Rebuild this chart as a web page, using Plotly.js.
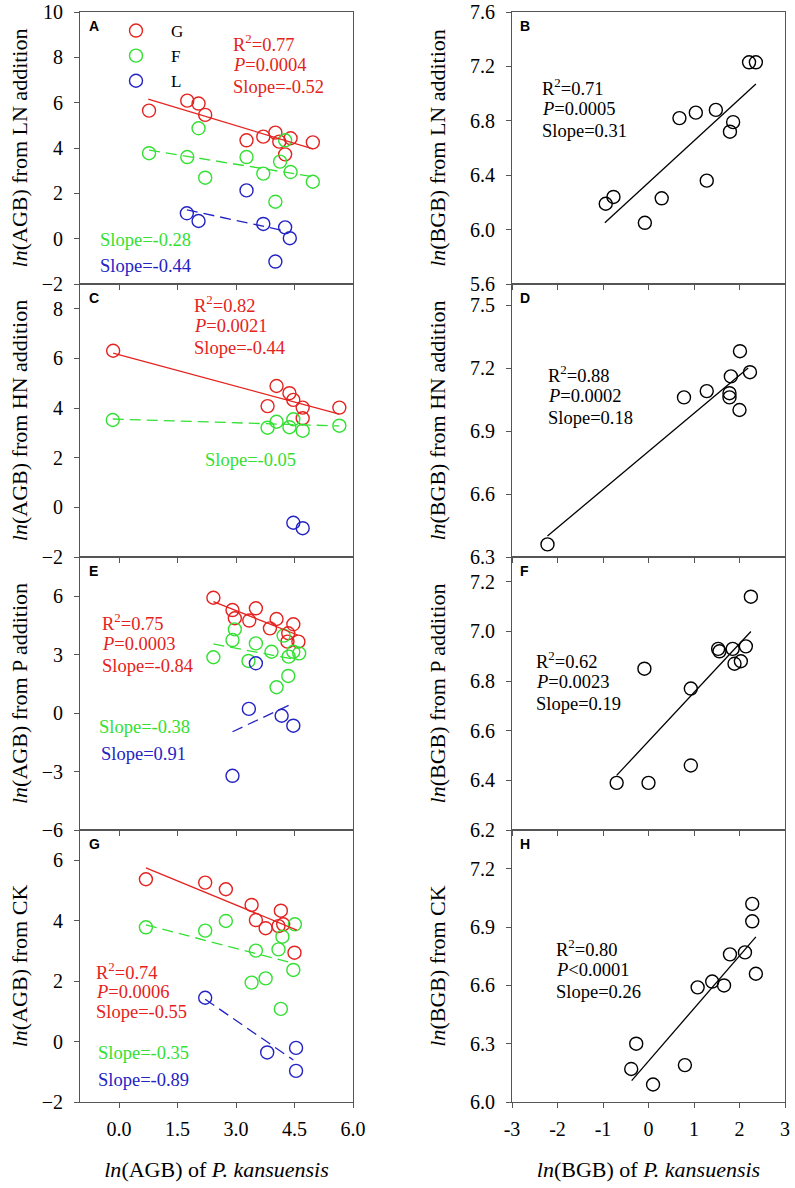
<!DOCTYPE html>
<html>
<head>
<meta charset="utf-8">
<script src="https://cdn.plot.ly/plotly-3.0.1.min.js"></script>
<style>html,body{margin:0;padding:0;background:#fff;}#chart{width:795px;height:1188px;}</style>
</head>
<body>
<div id="chart"></div>
<script>
// ---------- DATA ----------
const xTickValsAGB = [0, 1.5, 3, 4.5, 6];
const xTickTextAGB = ['0.0', '1.5', '3.0', '4.5', '6.0'];
const xTickValsBGB = [-3, -2, -1, 0, 1, 2, 3];
const xTickTextBGB = ['-3', '-2', '-1', '0', '1', '2', '3'];

// Panel A: ln(AGB) from LN addition
const A_G_x = [0.77, 1.75, 2.04, 2.21, 3.27, 3.70, 4.01, 4.11, 4.40, 4.26, 4.97];
const A_G_y = [5.65, 6.09, 5.96, 5.46, 4.34, 4.50, 4.68, 4.28, 4.43, 3.72, 4.25];
const A_F_x = [0.77, 1.75, 2.04, 2.21, 3.27, 3.70, 4.13, 4.26, 4.40, 4.97, 4.01];
const A_F_y = [3.77, 3.60, 4.87, 2.69, 3.60, 2.87, 3.40, 4.34, 2.94, 2.51, 1.63];
const A_L_x = [3.27, 1.74, 2.04, 3.70, 4.26, 4.38, 4.01];
const A_L_y = [2.13, 1.12, 0.78, 0.65, 0.50, 0.02, -1.01];
const A_G_fit_x = [0.75, 4.97], A_G_fit_y = [6.16, 3.96];
const A_F_fit_x = [0.77, 4.97], A_F_fit_y = [3.91, 2.73];
const A_L_fit_x = [1.74, 4.26], A_L_fit_y = [1.27, 0.34];

// Panel B: ln(BGB) from LN addition
const B_x = [2.21, 2.36, 0.68, 1.04, 1.48, 1.86, 1.79, 1.28, 0.29, -0.77, -0.94, -0.08];
const B_y = [7.23, 7.23, 6.82, 6.86, 6.88, 6.79, 6.72, 6.36, 6.23, 6.24, 6.19, 6.05];
const B_fit_x = [-0.96, 2.36], B_fit_y = [6.05, 7.07];

// Panel C: ln(AGB) from HN addition
const C_G_x = [-0.15, 4.04, 4.37, 4.47, 3.81, 4.71, 4.71, 5.65];
const C_G_y = [6.31, 4.89, 4.60, 4.33, 4.08, 4.02, 3.59, 4.02];
const C_F_x = [-0.16, 3.81, 4.04, 4.37, 4.47, 4.71, 5.65];
const C_F_y = [3.52, 3.21, 3.45, 3.23, 3.55, 3.09, 3.29];
const C_L_x = [4.47, 4.71];
const C_L_y = [-0.62, -0.84];
const C_G_fit_x = [-0.15, 5.65], C_G_fit_y = [6.21, 3.76];
const C_F_fit_x = [-0.16, 5.65], C_F_fit_y = [3.56, 3.28];

// Panel D: ln(BGB) from HN addition
const D_x = [2.01, 2.23, 1.81, 1.28, 0.78, 1.78, 1.78, 2.00, -2.22];
const D_y = [7.28, 7.18, 7.16, 7.09, 7.06, 7.08, 7.06, 7.00, 6.36];
const D_fit_x = [-2.22, 2.19], D_fit_y = [6.40, 7.20];

// Panel E: ln(AGB) from P addition
const E_G_x = [2.42, 2.91, 3.51, 2.97, 3.34, 4.04, 3.87, 4.47, 4.34, 4.60, 4.32];
const E_G_y = [5.91, 5.28, 5.37, 4.86, 4.74, 4.82, 4.34, 4.55, 4.09, 3.66, 3.66];
const E_F_x = [2.42, 2.97, 2.91, 3.32, 3.51, 3.91, 4.22, 4.35, 4.47, 4.62, 4.34, 4.04];
const E_F_y = [2.86, 4.29, 3.74, 2.67, 3.57, 3.14, 3.97, 2.89, 3.14, 3.06, 1.90, 1.32];
const E_L_x = [3.51, 3.33, 4.17, 4.47, 2.91];
const E_L_y = [2.55, 0.21, -0.14, -0.65, -3.22];
const E_G_fit_x = [2.42, 4.58], E_G_fit_y = [5.71, 4.00];
const E_F_fit_x = [2.42, 4.58], E_F_fit_y = [3.54, 2.72];
const E_L_fit_x = [2.91, 4.47], E_L_fit_y = [-0.96, 0.50];

// Panel F: ln(BGB) from P addition
const F_x = [2.25, -0.09, 1.53, 1.56, 1.85, 2.14, 1.89, 2.03, 0.93, 0.93, -0.70, 0.00];
const F_y = [7.14, 6.85, 6.93, 6.92, 6.93, 6.94, 6.87, 6.88, 6.77, 6.46, 6.39, 6.39];
const F_fit_x = [-0.70, 2.25], F_fit_y = [6.42, 7.00];

// Panel G: ln(AGB) from CK
const G_G_x = [0.69, 2.21, 2.74, 3.40, 4.15, 3.51, 3.76, 4.09, 4.21, 4.50];
const G_G_y = [5.37, 5.26, 5.04, 4.52, 4.33, 4.02, 3.75, 3.82, 3.88, 2.94];
const G_F_x = [0.69, 2.21, 2.74, 4.51, 4.19, 3.51, 4.09, 4.47, 3.40, 3.76, 4.15];
const G_F_y = [3.78, 3.67, 3.99, 3.88, 3.47, 3.01, 3.05, 2.37, 1.95, 2.09, 1.08];
const G_L_x = [2.21, 3.80, 4.54, 4.54];
const G_L_y = [1.45, -0.36, -0.21, -0.97];
const G_G_fit_x = [0.69, 4.56], G_G_fit_y = [5.75, 3.69];
const G_F_fit_x = [0.69, 4.47], G_F_fit_y = [3.86, 2.59];
const G_L_fit_x = [2.21, 4.47], G_L_fit_y = [1.40, -0.61];

// Panel H: ln(BGB) from CK
const H_x = [2.28, 2.28, 1.79, 2.12, 2.36, 1.08, 1.40, 1.66, -0.27, -0.38, 0.10, 0.80];
const H_y = [7.02, 6.93, 6.76, 6.77, 6.66, 6.59, 6.62, 6.60, 6.30, 6.17, 6.09, 6.19];
const H_fit_x = [-0.37, 2.36], H_fit_y = [6.11, 6.85];

// ---------- STYLE ----------
const W = 795, Hh = 1188;
const RED = '#e42320', GREEN = '#33e033', BLUE = '#2323c4', BLACK = '#000000';
const SERIF = 'Liberation Serif, Times New Roman, serif';
const SANS = 'Liberation Sans, Arial, sans-serif';
const px = v => v / W;
const py = v => 1 - v / Hh;

const colX = [[80, 353], [512, 785]];
const rowY = [[12, 284], [284, 557], [557, 830], [830, 1102]];

const traces = [];
function pts(x, y, xa, ya, color, name, showlegend) {
  traces.push({
    type: 'scatter', mode: 'markers', x: x, y: y, xaxis: xa, yaxis: ya,
    name: name || '', showlegend: !!showlegend,
    marker: {symbol: 'circle-open', size: 13, color: color, line: {width: 1.4, color: color}},
    hoverinfo: 'x+y'
  });
}
function fit(x, y, xa, ya, color, dashed) {
  traces.push({
    type: 'scatter', mode: 'lines', x: x, y: y, xaxis: xa, yaxis: ya,
    showlegend: false, hoverinfo: 'skip',
    line: {color: color, width: 1.3, dash: dashed ? '11px,6px' : 'solid'}
  });
}

// A
pts(A_G_x, A_G_y, 'x', 'y', RED, 'G', true);
pts(A_F_x, A_F_y, 'x', 'y', GREEN, 'F', true);
pts(A_L_x, A_L_y, 'x', 'y', BLUE, 'L', true);
fit(A_G_fit_x, A_G_fit_y, 'x', 'y', RED, false);
fit(A_F_fit_x, A_F_fit_y, 'x', 'y', GREEN, true);
fit(A_L_fit_x, A_L_fit_y, 'x', 'y', BLUE, true);
// B
pts(B_x, B_y, 'x2', 'y2', BLACK);
fit(B_fit_x, B_fit_y, 'x2', 'y2', BLACK, false);
// C
pts(C_G_x, C_G_y, 'x3', 'y3', RED);
pts(C_F_x, C_F_y, 'x3', 'y3', GREEN);
pts(C_L_x, C_L_y, 'x3', 'y3', BLUE);
fit(C_G_fit_x, C_G_fit_y, 'x3', 'y3', RED, false);
fit(C_F_fit_x, C_F_fit_y, 'x3', 'y3', GREEN, true);
// D
pts(D_x, D_y, 'x4', 'y4', BLACK);
fit(D_fit_x, D_fit_y, 'x4', 'y4', BLACK, false);
// E
pts(E_G_x, E_G_y, 'x5', 'y5', RED);
pts(E_F_x, E_F_y, 'x5', 'y5', GREEN);
pts(E_L_x, E_L_y, 'x5', 'y5', BLUE);
fit(E_G_fit_x, E_G_fit_y, 'x5', 'y5', RED, false);
fit(E_F_fit_x, E_F_fit_y, 'x5', 'y5', GREEN, true);
fit(E_L_fit_x, E_L_fit_y, 'x5', 'y5', BLUE, true);
// F
pts(F_x, F_y, 'x6', 'y6', BLACK);
fit(F_fit_x, F_fit_y, 'x6', 'y6', BLACK, false);
// G
pts(G_G_x, G_G_y, 'x7', 'y7', RED);
pts(G_F_x, G_F_y, 'x7', 'y7', GREEN);
pts(G_L_x, G_L_y, 'x7', 'y7', BLUE);
fit(G_G_fit_x, G_G_fit_y, 'x7', 'y7', RED, false);
fit(G_F_fit_x, G_F_fit_y, 'x7', 'y7', GREEN, true);
fit(G_L_fit_x, G_L_fit_y, 'x7', 'y7', BLUE, true);
// H
pts(H_x, H_y, 'x8', 'y8', BLACK);
fit(H_fit_x, H_fit_y, 'x8', 'y8', BLACK, false);

const AX = '#555555';
const TICKFONT = {family: SERIF, size: 20, color: '#000'};
function xax(col, row, isBottom, title) {
  const left = col === 0;
  const idx = row * 2 + col + 1;
  const a = {
    domain: [px(colX[col][0]), px(colX[col][1])],
    anchor: 'y' + (idx === 1 ? '' : idx),
    range: left ? [-1, 6] : [-3, 3],
    tickmode: 'array',
    tickvals: left ? xTickValsAGB : xTickValsBGB,
    ticktext: left ? xTickTextAGB : xTickTextBGB,
    showticklabels: isBottom,
    ticks: 'outside', ticklen: 5, tickwidth: 1, tickcolor: AX,
    showline: true, linecolor: AX, linewidth: 1, mirror: true,
    showgrid: false, zeroline: false,
    ticklabelstandoff: 4,
    tickfont: TICKFONT
  };
  if (isBottom) a.title = {text: title, font: {family: SERIF, size: 22, color: '#000'}, standoff: 22};
  return a;
}
function yax(col, row, range, dtick, tick0, fmt, title) {
  const idx = row * 2 + col + 1;
  return {
    domain: [py(rowY[row][1]), py(rowY[row][0])],
    anchor: 'x' + (idx === 1 ? '' : idx),
    range: range, dtick: dtick, tick0: tick0, tickformat: fmt,
    ticks: 'outside', ticklen: 5, tickwidth: 1, tickcolor: AX,
    showline: true, linecolor: AX, linewidth: 1, mirror: true,
    showgrid: false, zeroline: false,
    ticklabelstandoff: 7,
    tickfont: TICKFONT,
    title: {text: title, font: {family: SERIF, size: 22, color: '#000'}, standoff: col === 0 ? 8 : 18}
  };
}

const xTitleA = '<i>ln</i>(AGB) of <i>P. kansuensis</i>';
const xTitleB = '<i>ln</i>(BGB) of <i>P. kansuensis</i>';

const layout = {
  width: W, height: Hh,
  margin: {l: 0, r: 0, t: 0, b: 0},
  paper_bgcolor: '#fff', plot_bgcolor: '#fff',
  font: {family: SERIF, color: '#000'},
  showlegend: true,
  legend: {
    x: px(101), y: py(13), xanchor: 'left', yanchor: 'top',
    bgcolor: 'rgba(0,0,0,0)', borderwidth: 0,
    font: {family: SERIF, size: 17, color: '#000'},
    itemwidth: 60, tracegroupgap: 0
  },
  xaxis: xax(0, 0, false), yaxis: yax(0, 0, [-2, 10], 2, 0, 'd', '<i>ln</i>(AGB) from LN addition'),
  xaxis2: xax(1, 0, false), yaxis2: yax(1, 0, [5.6, 7.6], 0.4, 5.6, '.1f', '<i>ln</i>(BGB) from LN addition'),
  xaxis3: xax(0, 1, false), yaxis3: yax(0, 1, [-2, 9], 2, 0, 'd', '<i>ln</i>(AGB) from HN addition'),
  xaxis4: xax(1, 1, false), yaxis4: yax(1, 1, [6.3, 7.6], 0.3, 6.3, '.1f', '<i>ln</i>(BGB) from HN addition'),
  xaxis5: xax(0, 2, false), yaxis5: yax(0, 2, [-6, 8], 3, -6, 'd', '<i>ln</i>(AGB) from P addition'),
  xaxis6: xax(1, 2, false), yaxis6: yax(1, 2, [6.2, 7.3], 0.2, 6.2, '.1f', '<i>ln</i>(BGB) from P addition'),
  xaxis7: xax(0, 3, true, xTitleA), yaxis7: yax(0, 3, [-2, 7], 2, 0, 'd', '<i>ln</i>(AGB) from CK'),
  xaxis8: xax(1, 3, true, xTitleB), yaxis8: yax(1, 3, [6.0, 7.4], 0.3, 6.0, '.1f', '<i>ln</i>(BGB) from CK'),
  annotations: []
};

function note(text, x, y, color) {
  layout.annotations.push({
    text: text, xref: 'paper', yref: 'paper', x: px(x), y: py(y),
    xanchor: 'left', yanchor: 'middle', showarrow: false,
    font: {family: SERIF, size: 18.5, color: color}
  });
}
function stats(lines, x, y0, color, step) {
  lines.forEach((t, i) => note(t, x, y0 + i * (step || 22), color));
}
// panel letters
[['A', 87, 26], ['B', 518, 26], ['C', 87, 298], ['D', 518, 298],
 ['E', 87, 571], ['F', 518, 571], ['G', 87, 844], ['H', 518, 844]].forEach(p =>
  layout.annotations.push({text: '<b>' + p[0] + '</b>', xref: 'paper', yref: 'paper',
    x: px(p[1]), y: py(p[2]), xanchor: 'left', yanchor: 'middle', showarrow: false,
    font: {family: SANS, size: 14, color: '#000'}}));

stats(['R<sup>2</sup>=0.77', '<i>P</i>=0.0004', 'Slope=-0.52'], 231, 43, RED);
note('Slope=-0.28', 98, 240, GREEN);
note('Slope=-0.44', 98, 266, BLUE);
stats(['R<sup>2</sup>=0.71', '<i>P</i>=0.0005', 'Slope=0.31'], 540, 87, BLACK);
stats(['R<sup>2</sup>=0.82', '<i>P</i>=0.0021', 'Slope=-0.44'], 192, 304, RED);
note('Slope=-0.05', 203, 460, GREEN);
stats(['R<sup>2</sup>=0.88', '<i>P</i>=0.0002', 'Slope=0.18'], 546, 374, BLACK);
stats(['R<sup>2</sup>=0.75', '<i>P</i>=0.0003', 'Slope=-0.84'], 100, 622, RED);
note('Slope=-0.38', 97, 727, GREEN);
note('Slope=0.91', 99, 754, BLUE);
stats(['R<sup>2</sup>=0.62', '<i>P</i>=0.0023', 'Slope=0.19'], 534, 660, BLACK);
stats(['R<sup>2</sup>=0.74', '<i>P</i>=0.0006', 'Slope=-0.55'], 94, 971, RED, 20.5);
note('Slope=-0.35', 96, 1053, GREEN);
note('Slope=-0.89', 96, 1080, BLUE);
stats(['R<sup>2</sup>=0.80', '<i>P</i>&lt;0.0001', 'Slope=0.26'], 554, 948, BLACK);

Plotly.newPlot('chart', traces, layout, {staticPlot: true, displayModeBar: false});
</script>
</body>
</html>
